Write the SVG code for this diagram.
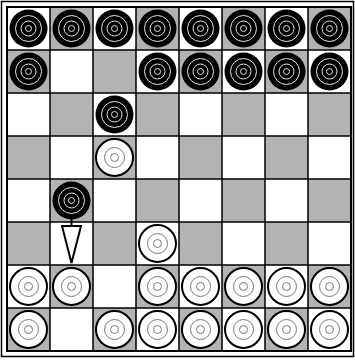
<svg xmlns="http://www.w3.org/2000/svg" xmlns:xlink="http://www.w3.org/1999/xlink" width="355" height="360" viewBox="0 0 355 360">
<style>
.dk{fill:#b3b3b3}
.grid{stroke:#000;stroke-width:1.5;fill:none}
.bp{fill:#000}
.bring{fill:none;stroke:#e6e6e6;stroke-width:1}
.wp{fill:#fff;stroke:#000;stroke-width:2}
.wring{fill:none;stroke:#777;stroke-width:1}
</style>
<defs>
<g id="black">
<circle r="19" class="bp"/>
<circle r="13" class="bring"/>
<circle r="7.5" class="bring"/>
<circle r="3" class="bring"/>
</g>
<g id="white">
<circle r="18.5" class="wp"/>
<circle r="10" class="wring"/>
<circle r="4" class="wring"/>
</g>
</defs>
<rect width="355" height="360" fill="#fff"/>
<rect x="1.5" y="1.5" width="352" height="355" fill="none" stroke="#000" stroke-width="1.5"/>
<g id="board">
<rect x="50" y="7" width="43" height="43" class="dk"/><rect x="136" y="7" width="43" height="43" class="dk"/><rect x="222" y="7" width="43" height="43" class="dk"/><rect x="308" y="7" width="43" height="43" class="dk"/>
<rect x="7" y="50" width="43" height="43" class="dk"/><rect x="93" y="50" width="43" height="43" class="dk"/><rect x="179" y="50" width="43" height="43" class="dk"/><rect x="265" y="50" width="43" height="43" class="dk"/>
<rect x="50" y="93" width="43" height="43" class="dk"/><rect x="136" y="93" width="43" height="43" class="dk"/><rect x="222" y="93" width="43" height="43" class="dk"/><rect x="308" y="93" width="43" height="43" class="dk"/>
<rect x="7" y="136" width="43" height="43" class="dk"/><rect x="93" y="136" width="43" height="43" class="dk"/><rect x="179" y="136" width="43" height="43" class="dk"/><rect x="265" y="136" width="43" height="43" class="dk"/>
<rect x="50" y="179" width="43" height="43" class="dk"/><rect x="136" y="179" width="43" height="43" class="dk"/><rect x="222" y="179" width="43" height="43" class="dk"/><rect x="308" y="179" width="43" height="43" class="dk"/>
<rect x="7" y="222" width="43" height="43" class="dk"/><rect x="93" y="222" width="43" height="43" class="dk"/><rect x="179" y="222" width="43" height="43" class="dk"/><rect x="265" y="222" width="43" height="43" class="dk"/>
<rect x="50" y="265" width="43" height="43" class="dk"/><rect x="136" y="265" width="43" height="43" class="dk"/><rect x="222" y="265" width="43" height="43" class="dk"/><rect x="308" y="265" width="43" height="43" class="dk"/>
<rect x="7" y="308" width="43" height="43" class="dk"/><rect x="93" y="308" width="43" height="43" class="dk"/><rect x="179" y="308" width="43" height="43" class="dk"/><rect x="265" y="308" width="43" height="43" class="dk"/>
<path class="grid" d="M50 7V351M93 7V351M136 7V351M179 7V351M222 7V351M265 7V351M308 7V351M7 50H351M7 93H351M7 136H351M7 179H351M7 222H351M7 265H351M7 308H351"/>
<rect x="7" y="7" width="344" height="344" fill="none" stroke="#000" stroke-width="2"/>
</g>
<g id="black-pieces">
<use xlink:href="#black" x="28.5" y="28.5"/><use xlink:href="#black" x="71.5" y="28.5"/><use xlink:href="#black" x="114.5" y="28.5"/><use xlink:href="#black" x="157.5" y="28.5"/><use xlink:href="#black" x="200.5" y="28.5"/><use xlink:href="#black" x="243.5" y="28.5"/><use xlink:href="#black" x="286.5" y="28.5"/><use xlink:href="#black" x="329.5" y="28.5"/>
<use xlink:href="#black" x="28.5" y="71.5"/><use xlink:href="#black" x="157.5" y="71.5"/><use xlink:href="#black" x="200.5" y="71.5"/><use xlink:href="#black" x="243.5" y="71.5"/><use xlink:href="#black" x="286.5" y="71.5"/><use xlink:href="#black" x="329.5" y="71.5"/>
<use xlink:href="#black" x="114.5" y="114.5"/>
<use xlink:href="#black" x="71.5" y="200.5"/>
</g>
<g id="white-pieces">
<use xlink:href="#white" x="114.5" y="157.5"/>
<use xlink:href="#white" x="157.5" y="243.5"/>
<use xlink:href="#white" x="28.5" y="286.5"/><use xlink:href="#white" x="71.5" y="286.5"/><use xlink:href="#white" x="157.5" y="286.5"/><use xlink:href="#white" x="200.5" y="286.5"/><use xlink:href="#white" x="243.5" y="286.5"/><use xlink:href="#white" x="286.5" y="286.5"/><use xlink:href="#white" x="329.5" y="286.5"/>
<use xlink:href="#white" x="28.5" y="329.5"/><use xlink:href="#white" x="114.5" y="329.5"/><use xlink:href="#white" x="157.5" y="329.5"/><use xlink:href="#white" x="200.5" y="329.5"/><use xlink:href="#white" x="243.5" y="329.5"/><use xlink:href="#white" x="286.5" y="329.5"/><use xlink:href="#white" x="329.5" y="329.5"/>
</g>
<g id="connectors">
<line x1="71.5" y1="219" x2="71.5" y2="226" stroke="#000" stroke-width="2"/>
<polygon points="62,226 81,226 71.5,263" fill="#fff" stroke="#000" stroke-width="2" stroke-linejoin="miter"/>
</g>
</svg>
